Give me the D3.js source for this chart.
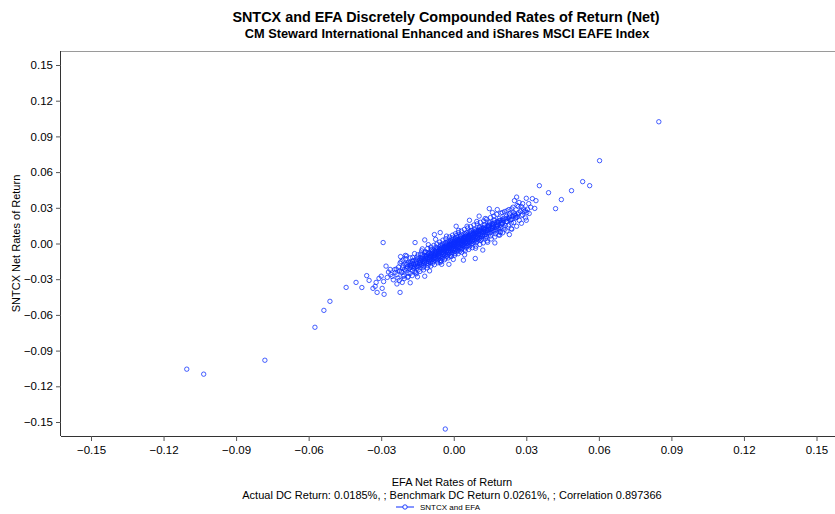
<!DOCTYPE html>
<html><head><meta charset="utf-8">
<script src="https://cdn.jsdelivr.net/npm/d3@7/dist/d3.min.js"></script>
<style>
body{margin:0;background:#fff;}
svg{display:block;font-family:"Liberation Sans",Arial,sans-serif;}
</style></head>
<body><svg id="chart" width="835" height="514"></svg>
<script>
// Daily returns in percent: [EFA, SNTCX]
const returnsPct = [
[-2.35,-2.62],[-2.28,-1.98],[-2.24,-2.31],[-2.31,-2.90],[-2.22,-1.65],[-2.38,-2.15],
[-2.15,-2.44],[-2.09,-1.88],[-2.03,-2.18],[-2.18,-1.52],[-2.06,-2.67],[-2.12,-2.05],[-2.01,-1.72],[-2.17,-2.33],
[-1.97,-2.29],[-1.92,-1.96],[-1.86,-1.58],[-1.89,-2.47],[-1.83,-2.09],[-1.95,-1.75],[-1.81,-1.82],[-1.99,-1.28],[-1.88,-2.76],[-1.93,-2.12],
[-1.78,-2.01],[-1.74,-1.68],[-1.71,-2.26],[-1.68,-1.45],[-1.76,-1.87],[-1.63,-1.93],[-1.66,-1.72],[-1.61,-2.36],[-1.79,-1.56],[-1.70,-1.18],[-1.65,-2.09],[-1.73,-1.97],
[-1.58,-1.79],[-1.55,-1.50],[-1.52,-2.06],[-1.49,-1.31],[-1.56,-1.64],[-1.45,-1.88],[-1.42,-1.58],[-1.47,-2.22],[-1.59,-1.37],[-1.51,-1.15],[-1.43,-1.40],[-1.54,-1.93],[-1.41,-1.71],[-1.57,-2.44],
[-1.38,-1.62],[-1.35,-1.31],[-1.32,-1.85],[-1.29,-1.12],[-1.36,-1.45],[-1.25,-1.70],[-1.22,-1.39],[-1.27,-2.03],[-1.39,-1.19],[-1.31,-0.96],[-1.23,-1.23],[-1.34,-1.76],[-1.21,-1.55],[-1.37,-0.88],[-1.28,-1.49],[-1.24,-1.91],
[-1.18,-1.43],[-1.15,-1.12],[-1.12,-1.68],[-1.09,-0.94],[-1.16,-1.26],[-1.05,-1.51],[-1.02,-1.20],[-1.07,-1.86],[-1.19,-1.01],[-1.11,-0.77],[-1.03,-1.04],[-1.14,-1.57],[-1.01,-1.36],[-1.17,-0.70],[-1.08,-1.31],[-1.04,-1.72],[-1.13,-1.05],[-1.06,-0.86],
[-0.98,-1.21],[-0.96,-0.95],[-0.93,-1.47],[-0.90,-0.72],[-0.97,-1.09],[-0.86,-1.33],[-0.83,-1.03],[-0.88,-1.66],[-0.99,-0.81],[-0.92,-0.56],[-0.84,-0.88],[-0.95,-1.38],[-0.81,-1.16],[-0.94,-0.49],[-0.89,-1.12],[-0.85,-1.52],[-0.91,-0.86],[-0.87,-0.64],[-0.82,-1.27],[-0.97,-1.58],
[-0.79,-1.02],[-0.76,-0.74],[-0.73,-1.28],[-0.71,-0.53],[-0.77,-0.90],[-0.66,-1.14],[-0.63,-0.84],[-0.68,-1.46],[-0.78,-0.61],[-0.72,-0.37],[-0.64,-0.69],[-0.75,-1.19],[-0.61,-0.97],[-0.74,-0.29],[-0.69,-0.93],[-0.65,-1.33],[-0.70,-0.67],[-0.67,-0.45],[-0.62,-1.08],[-0.77,-1.39],[-0.60,-0.52],[-0.72,-0.81],
[-0.59,-0.82],[-0.56,-0.55],[-0.53,-1.09],[-0.51,-0.34],[-0.57,-0.71],[-0.46,-0.95],[-0.43,-0.64],[-0.48,-1.27],[-0.58,-0.42],[-0.52,-0.18],[-0.44,-0.50],[-0.55,-1.00],[-0.41,-0.78],[-0.54,-0.10],[-0.49,-0.74],[-0.45,-1.14],[-0.50,-0.48],[-0.47,-0.26],[-0.42,-0.89],[-0.57,-1.20],[-0.40,-0.33],[-0.52,-0.62],[-0.46,-0.04],[-0.55,-1.42],
[-0.39,-0.63],[-0.36,-0.36],[-0.33,-0.90],[-0.31,-0.15],[-0.37,-0.52],[-0.26,-0.76],[-0.23,-0.45],[-0.28,-1.08],[-0.38,-0.23],[-0.32,0.01],[-0.24,-0.31],[-0.35,-0.81],[-0.21,-0.59],[-0.34,0.09],[-0.29,-0.55],[-0.25,-0.95],[-0.30,-0.29],[-0.27,-0.07],[-0.22,-0.70],[-0.37,-1.01],[-0.20,-0.14],[-0.32,-0.43],[-0.26,0.15],[-0.35,-1.23],[-0.23,-0.22],[-0.30,-0.67],
[-0.19,-0.44],[-0.16,-0.17],[-0.13,-0.71],[-0.11,0.04],[-0.17,-0.33],[-0.06,-0.57],[-0.03,-0.26],[-0.08,-0.89],[-0.18,-0.04],[-0.12,0.20],[-0.04,-0.12],[-0.15,-0.62],[-0.01,-0.40],[-0.14,0.28],[-0.09,-0.36],[-0.05,-0.76],[-0.10,-0.10],[-0.07,0.12],[-0.02,-0.51],[-0.17,-0.82],[0.00,0.05],[-0.12,-0.24],[-0.06,0.34],[-0.15,-1.04],[-0.03,-0.03],[-0.10,-0.48],[-0.08,0.48],[-0.19,0.10],
[0.01,-0.25],[0.04,0.02],[0.07,-0.52],[0.09,0.23],[0.03,-0.14],[0.14,-0.38],[0.17,-0.07],[0.12,-0.70],[0.02,0.15],[0.08,0.39],[0.16,0.07],[0.05,-0.43],[0.19,-0.21],[0.06,0.47],[0.11,-0.17],[0.15,-0.57],[0.10,0.09],[0.13,0.31],[0.18,-0.32],[0.03,-0.63],[0.20,0.24],[0.08,-0.05],[0.14,0.53],[0.05,-0.85],[0.17,0.16],[0.10,-0.29],[0.12,0.67],[0.01,0.29],
[0.21,-0.06],[0.24,0.21],[0.27,-0.33],[0.29,0.42],[0.23,0.05],[0.34,-0.19],[0.37,0.12],[0.32,-0.51],[0.22,0.34],[0.28,0.58],[0.36,0.26],[0.25,-0.24],[0.39,-0.02],[0.26,0.66],[0.31,0.02],[0.35,-0.38],[0.30,0.28],[0.33,0.50],[0.38,-0.13],[0.23,-0.44],[0.40,0.43],[0.28,0.14],[0.34,0.72],[0.25,-0.66],[0.37,0.35],[0.30,-0.10],
[0.41,0.13],[0.44,0.40],[0.47,-0.14],[0.49,0.61],[0.43,0.24],[0.54,0.00],[0.57,0.31],[0.52,-0.32],[0.42,0.53],[0.48,0.77],[0.56,0.45],[0.45,-0.05],[0.59,0.17],[0.46,0.85],[0.51,0.21],[0.55,-0.19],[0.50,0.47],[0.53,0.69],[0.58,0.06],[0.43,-0.25],[0.60,0.62],[0.48,0.33],[0.54,0.91],[0.45,-0.47],[0.57,0.54],[0.50,0.09],
[0.61,0.32],[0.64,0.59],[0.67,0.05],[0.69,0.80],[0.63,0.43],[0.74,0.19],[0.77,0.50],[0.72,-0.13],[0.62,0.72],[0.68,0.96],[0.76,0.64],[0.65,0.14],[0.79,0.36],[0.66,1.04],[0.71,0.40],[0.75,0.00],[0.70,0.66],[0.73,0.88],[0.78,0.25],[0.63,-0.06],[0.80,0.81],[0.68,0.52],[0.74,1.10],[0.65,-0.28],
[0.81,0.51],[0.84,0.78],[0.87,0.24],[0.89,0.99],[0.83,0.62],[0.94,0.38],[0.97,0.69],[0.92,0.06],[0.82,0.91],[0.88,1.15],[0.96,0.83],[0.85,0.33],[0.99,0.55],[0.86,1.23],[0.91,0.59],[0.95,0.19],[0.90,0.85],[0.93,1.07],[0.98,0.44],[0.83,0.13],[1.00,1.00],[0.88,0.71],
[1.01,0.70],[1.04,0.97],[1.07,0.43],[1.09,1.18],[1.03,0.81],[1.14,0.57],[1.17,0.88],[1.12,0.25],[1.02,1.10],[1.08,1.34],[1.16,1.02],[1.05,0.52],[1.19,0.74],[1.06,1.42],[1.11,0.78],[1.15,0.38],[1.10,1.04],[1.13,1.26],[1.18,0.63],[1.03,0.32],
[1.21,0.89],[1.24,1.16],[1.27,0.62],[1.29,1.37],[1.23,1.00],[1.34,0.76],[1.37,1.07],[1.32,0.44],[1.22,1.29],[1.28,1.53],[1.36,1.21],[1.25,0.71],[1.39,0.93],[1.26,1.61],[1.31,0.97],[1.35,0.57],[1.30,1.23],[1.38,1.45],
[1.41,1.08],[1.44,1.35],[1.47,0.81],[1.49,1.56],[1.43,1.19],[1.54,0.95],[1.57,1.26],[1.52,0.63],[1.42,1.48],[1.48,1.72],[1.56,1.40],[1.45,0.90],[1.59,1.12],[1.46,1.80],[1.51,1.16],[1.58,1.64],
[1.61,1.27],[1.64,1.54],[1.67,1.00],[1.69,1.75],[1.63,1.38],[1.74,1.14],[1.77,1.45],[1.72,0.82],[1.62,1.67],[1.68,1.91],[1.76,1.59],[1.65,1.09],[1.79,1.31],[1.66,1.99],
[1.81,1.46],[1.84,1.73],[1.87,1.19],[1.89,1.94],[1.83,1.57],[1.94,1.33],[1.97,1.64],[1.92,1.01],[1.82,1.86],[1.88,2.10],[1.96,1.78],[1.85,1.28],
[2.01,1.65],[2.04,1.92],[2.07,1.38],[2.09,2.13],[2.03,1.76],[2.14,1.52],[2.17,1.83],[2.12,1.20],[2.02,2.05],[2.18,2.29],
[2.21,1.84],[2.24,2.11],[2.27,1.57],[2.29,2.32],[2.33,1.95],[2.36,2.02],[2.38,1.71],[2.31,2.48],
[2.41,2.03],[2.45,2.30],[2.48,1.76],[2.52,2.51],[2.55,2.14],[2.58,2.21],[2.46,2.62],
[2.62,2.22],[2.66,2.49],[2.71,1.95],[2.75,2.70],[2.79,2.33],
[2.84,2.41],[2.91,2.68],[2.97,2.15],[3.05,2.89],[3.12,2.52],[3.18,3.05],
// upper edge of the band
[-2.10,-1.40],[-1.95,-1.05],[-1.80,-1.20],[-1.62,-0.85],[-1.48,-0.95],[-1.33,-0.62],[-1.20,-0.75],[-1.08,-0.42],[-0.95,-0.30],[-0.82,-0.15],[-0.70,-0.05],[-0.58,0.12],[-0.45,0.28],[-0.33,0.40],[-0.18,0.55],[-0.05,0.70],[0.07,0.82],[0.19,0.92],[0.31,1.05],[0.44,1.18],[0.58,1.30],[0.70,1.42],[0.83,1.55],[0.97,1.65],[1.10,1.78],[1.24,1.90],[1.36,2.05],[1.52,2.18],[1.66,2.30],[1.78,2.45],[1.95,2.55],[2.10,2.68],[2.28,2.85],[2.45,3.05],[2.62,3.20],[2.85,3.35],
// lower edge of the band
[-2.25,-3.10],[-2.05,-2.95],[-1.90,-2.85],[-1.72,-2.70],[-1.55,-2.55],[-1.40,-2.35],[-1.25,-2.22],[-1.10,-2.05],[-0.95,-1.90],[-0.80,-1.78],[-0.66,-1.62],[-0.52,-1.50],[-0.38,-1.36],[-0.24,-1.22],[-0.10,-1.10],[0.04,-0.98],[0.18,-0.86],[0.33,-0.74],[0.47,-0.62],[0.62,-0.50],[0.77,-0.35],[0.92,-0.22],[1.08,-0.08],[1.22,0.05],[1.38,0.22],[1.55,0.38],[1.70,0.55],[1.86,0.72],[2.02,0.90],[2.20,1.05],[2.38,1.25],[2.60,1.45],[2.80,1.70],[3.00,1.95],
// middle of the band
[-1.90,-1.65],[-1.70,-1.50],[-1.50,-1.70],[-1.30,-1.30],[-1.10,-1.20],[-0.92,-0.98],[-0.78,-0.78],[-0.62,-0.62],[-0.44,-0.40],[-0.28,-0.33],[-0.12,-0.05],[0.02,-0.05],[0.16,0.30],[0.32,0.22],[0.46,0.56],[0.62,0.52],[0.78,0.78],[0.94,0.95],[1.12,1.12],[1.28,1.14],[1.44,1.55],[1.62,1.48],[1.78,1.78],[1.95,1.95],[2.15,2.05],[2.30,2.20],[2.50,2.40],[2.68,2.60],[2.88,2.90],[3.02,2.60],
// scattered fringe
[-1.20,0.30],[-0.80,0.75],[0.10,1.45],[0.65,1.95],[1.05,2.30],[-0.20,-1.75],[0.40,-1.40],[1.20,-0.55],[1.70,0.05],[2.30,0.75],[-1.80,-3.30],[-1.20,-2.75],[2.60,3.90],[3.40,3.60],[3.00,3.80],[1.60,2.60],[-2.80,-1.90],[-2.20,-1.10],[-3.60,-2.70],[-3.80,-3.70],
[-1.60,0.08],[-0.56,0.92],[-1.05,-0.10],[-0.75,0.35],[-0.30,0.62],[0.20,1.10],[0.55,1.45],[0.95,1.85],[1.30,2.10],[-1.30,-0.45],[-2.00,-1.00],
[0.89,-1.26],[-0.02,-1.34],[0.45,-0.95],[0.90,-0.40],[1.40,0.10],[1.90,0.70],[-0.50,-1.75],[-1.00,-2.30],[-1.50,-2.80],[2.40,1.20],[1.93,0.92],
[-2.60,-2.60],[-2.75,-2.85],[-2.50,-3.05],[-2.90,-3.20],[-2.70,-2.40],[-3.00,-2.75],[-2.45,-2.20],[-2.35,-3.40],
[-2.42,-2.43],[-2.63,-2.18],[-2.55,-2.77],[-2.09,-2.77],[-1.80,-2.51],[-1.51,-1.93],[-0.56,-1.59],
[-4.45,-3.69],[-4.04,-3.27],[-3.50,-3.10],[-3.21,-3.27],[-3.09,-2.93],[-3.25,-3.60],[-2.96,-3.77],[-3.34,-3.77],[-3.17,-4.11],[-2.88,-4.27],[-2.22,-4.11],[-2.13,-3.27],
[-2.92,0.08],[-5.12,-4.86],[-5.37,-5.62],[-5.74,-7.04],[-7.81,-9.81],[-11.04,-10.56],[-10.34,-10.98],[-0.35,-15.59],
[2.51,3.60],[2.67,3.10],[2.80,3.10],[2.96,2.77],[1.47,2.93],[1.80,2.85],[2.01,2.60],[2.55,2.35],[2.70,3.45],[2.20,2.75],[3.10,3.35],[2.40,2.90],[3.35,2.95],
[3.25,3.77],[3.54,4.86],[3.92,4.27],[4.21,2.93],[4.45,3.69],[4.87,4.44],[5.33,5.20],[5.62,4.86],[6.03,6.96],[8.48,10.23]
];
const xTicks = [-0.15,-0.12,-0.09,-0.06,-0.03,0.00,0.03,0.06,0.09,0.12,0.15];
const yTicks = [-0.15,-0.12,-0.09,-0.06,-0.03,0.00,0.03,0.06,0.09,0.12,0.15];
const titleLines = ["SNTCX and EFA Discretely Compounded Rates of Return (Net)","CM Steward International Enhanced and iShares MSCI EAFE Index"];
const xLabel = "EFA Net Rates of Return";
const yLabel = "SNTCX Net Rates of Return";
const statsLine = "Actual DC Return: 0.0185%, ; Benchmark DC Return 0.0261%, ; Correlation 0.897366";
const legendLabel = "SNTCX and EFA";

const svg = d3.select("#chart");
const L = 61, R = 835, T = 51, B = 436;
const x = d3.scaleLinear().domain([-0.15, 0.15]).range([91, 816.5]);
const y = d3.scaleLinear().domain([-0.15, 0.15]).range([422, 65]);
const blue = "#0a2dff";

// top frame line
svg.append("line").attr("x1", L).attr("x2", R).attr("y1", T + 0.5).attr("y2", T + 0.5)
  .attr("stroke", "#9a9a9a").attr("stroke-width", 1);

// points
svg.append("g").selectAll("circle").data(returnsPct).join("circle")
  .attr("cx", d => x(d[0] / 100)).attr("cy", d => y(d[1] / 100)).attr("r", 2.2)
  .attr("fill", "none").attr("stroke", blue).attr("stroke-width", 0.9).attr("stroke-opacity", 0.85);

// x axis
const xa = svg.append("g").attr("transform", `translate(0,${B})`)
  .call(d3.axisBottom(x).tickValues(xTicks).tickFormat(d3.format(".2f")).tickSize(5).tickSizeOuter(0).tickPadding(5));
xa.select(".domain").attr("d", `M${L},0.5H${R}`).attr("stroke", "#333");
xa.selectAll(".tick line").attr("stroke", "#555");
xa.selectAll("text").attr("font-size", 11.5).attr("fill", "#000").attr("font-family", "Liberation Sans, Arial, sans-serif");

// y axis
const ya = svg.append("g").attr("transform", `translate(${L},0)`)
  .call(d3.axisLeft(y).tickValues(yTicks).tickFormat(d3.format(".2f")).tickSize(5).tickSizeOuter(0).tickPadding(3));
ya.select(".domain").attr("d", `M-0.5,${T}V${B}`).attr("stroke", "#333");
ya.selectAll(".tick line").attr("stroke", "#555");
ya.selectAll("text").attr("font-size", 11.5).attr("fill", "#000").attr("font-family", "Liberation Sans, Arial, sans-serif");

// titles
const titleSizes = [14.4, 12.8];
svg.append("g").selectAll("text").data(titleLines).join("text")
  .attr("x", (d, i) => i === 0 ? 446 : 447).attr("y", (d, i) => 22 + i * 16).attr("text-anchor", "middle")
  .attr("font-size", (d, i) => titleSizes[i]).attr("font-weight", "bold").text(d => d);

// axis labels
svg.append("text").attr("x", 452).attr("y", 486).attr("text-anchor", "middle").attr("font-size", 11).text(xLabel);
svg.append("text").attr("x", 452).attr("y", 499).attr("text-anchor", "middle").attr("font-size", 11).text(statsLine);
svg.append("text").attr("transform", `translate(20,${(T + B) / 2}) rotate(-90)`).attr("text-anchor", "middle")
  .attr("font-size", 11).text(yLabel);

// legend
const lg = svg.append("g").attr("transform", "translate(0,507)");
lg.append("line").attr("x1", 396).attr("x2", 414).attr("y1", 0).attr("y2", 0).attr("stroke", blue).attr("stroke-width", 1);
lg.append("circle").attr("cx", 405).attr("cy", 0).attr("r", 2.2).attr("fill", "#fff").attr("stroke", blue).attr("stroke-width", 0.9);
lg.append("text").attr("x", 420).attr("y", 3).attr("font-size", 8).text(legendLabel);
</script>
</body></html>
